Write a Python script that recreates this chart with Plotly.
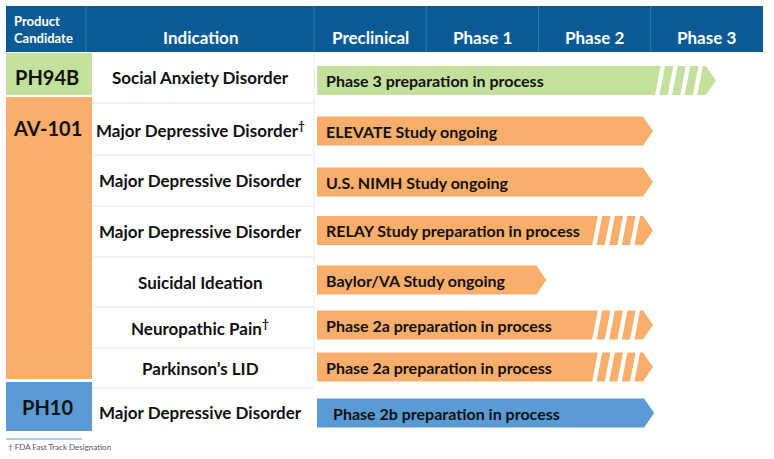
import plotly.graph_objects as go

# pipeline data
phases = ["Preclinical", "Phase 1", "Phase 2", "Phase 3"]
products = ["PH94B", "AV-101", "PH10"]
product_colors = ["#c4e09d", "#f9ae6c", "#5b9bd5"]
indications = [
    "Social Anxiety Disorder",
    "Major Depressive Disorder<sup>†</sup>",
    "Major Depressive Disorder",
    "Major Depressive Disorder",
    "Suicidal Ideation",
    "Neuropathic Pain<sup>†</sup>",
    "Parkinson’s LID",
    "Major Depressive Disorder",
]
row_product = [0, 1, 1, 1, 1, 1, 1, 2]
status = [
    "Phase 3 preparation in process",
    "ELEVATE Study ongoing",
    "U.S. NIMH Study ongoing",
    "RELAY Study preparation in process",
    "Baylor/VA Study ongoing",
    "Phase 2a preparation in process",
    "Phase 2a preparation in process",
    "Phase 2b preparation in process",
]
# how far each arrow reaches, in phase columns (0 = start of Preclinical)
progress = [3.58, 3.02, 3.02, 3.02, 2.07, 3.02, 3.02, 3.03]
in_preparation = [True, False, False, True, False, True, True, False]
footnote = "† FDA Fast Track Designation"

# layout (pixels)
W, H = 774, 459
X0, UNIT = 314, 112.25  # pixel where Preclinical starts, pixels per phase column


def px(p):
    return (p - X0) / UNIT


HEADER_BLUE = "#0a5b95"
FONT = "Lato"
header = (6, 52)
row_edges = [52, 103, 155, 206, 257, 307, 348, 388, 436]
arrow_shift = [3, 2, 1.5, -1, -2, -2.5, -1, 1]  # arrows sit a little off the row centres
box_edges = [(53, 95), (97, 379), (382, 431)]
box_label_y = [77, 128, 407]

fig = go.Figure()
shapes = []
notes = []


def rect(x0, x1, y0, y1, color, layer="below"):
    shapes.append(dict(type="rect", xref="x", yref="y", x0=x0, x1=x1, y0=y0, y1=y1,
                       fillcolor=color, line_width=0, layer=layer))


def line(x0, x1, y0, y1, color, width=1):
    shapes.append(dict(type="line", xref="x", yref="y", x0=x0, x1=x1, y0=y0, y1=y1,
                       line=dict(color=color, width=width), layer="below"))


def text(x, y, s, size, color="#111111", anchor="center"):
    notes.append(dict(x=x, y=y, xref="x", yref="y", text=s, showarrow=False,
                      xanchor=anchor, yanchor="middle", align=anchor if anchor != "center" else "center",
                      font=dict(family=FONT, size=size, color=color)))


# header band
rect(px(6), len(phases), header[0], header[1], HEADER_BLUE)
for xd in [px(86), 0, 1, 2, 3]:
    line(xd, xd, header[0], header[1], "rgba(255,255,255,0.18)")
notes.append(dict(x=px(12), y=29, xref="x", yref="y", text="<b>Product<br>Candidate</b>",
                  showarrow=False, xanchor="left", yanchor="middle", align="left",
                  font=dict(family=FONT, size=13, color="white")))
text(px(200), 37, "<b>Indication</b>", 17, "white")
for i, ph in enumerate(phases):
    text(i + 0.5, 37, "<b>%s</b>" % ph, 17, "white")

# product boxes
for name, color, (y0, y1), ly in zip(products, product_colors, box_edges, box_label_y):
    rect(px(6), px(92), y0, y1, color)
    text(px(47), ly, "<b>%s</b>" % name, 20)

# indication rows
for ye in row_edges[1:-1]:
    line(px(92), 0, ye, ye, "#e6e6e6")
line(0, 0, row_edges[0], row_edges[-2], "#eeeeee")

start = px(317)
head = 10 / UNIT
half = 14.5
for i, ind in enumerate(indications):
    yr = (row_edges[i] + row_edges[i + 1]) / 2
    text(px(200), yr, "<b>%s</b>" % ind, 17)

    yc = yr + arrow_shift[i]
    color = product_colors[row_product[i]]
    tip = progress[i]
    yt, yb = yc - half, yc + half
    path = "M {a},{t} L {b},{t} L {c},{m} L {b},{bt} L {a},{bt} Z".format(
        a=start, b=tip - head, c=tip, t=yt, m=yc, bt=yb)
    shapes.append(dict(type="path", xref="x", yref="y", path=path, fillcolor=color,
                       line_width=0, layer="below"))
    if in_preparation[i]:
        for k in range(4):
            c = tip - (18 + 12.6 * k) / UNIT
            s, w = 3 / UNIT, 2.2 / UNIT
            gp = "M {a},{t} L {b},{t} L {c},{bt} L {d},{bt} Z".format(
                a=c + s - w, b=c + s + w, c=c - s + w, d=c - s - w, t=yt - 1, bt=yb + 1)
            shapes.append(dict(type="path", xref="x", yref="y", path=gp, fillcolor="white",
                               line_width=0, layer="below"))
    indent = 17 if i == len(indications) - 1 else 10
    text(px(314 + indent), yc, "<b>%s</b>" % status[i], 16, anchor="left")

# footnote
line(px(6), px(82), 439, 439, "#5b9bd5")
text(px(6), 447, footnote, 8, "#555555", anchor="left")

fig.update_layout(
    width=W, height=H,
    margin=dict(l=0, r=0, t=0, b=0),
    paper_bgcolor="white", plot_bgcolor="white",
    xaxis=dict(range=[px(0), px(W)], visible=False, fixedrange=True),
    yaxis=dict(range=[H, 0], visible=False, fixedrange=True),
    shapes=shapes, annotations=notes, showlegend=False,
)
fig.write_html("out.html", config={"displayModeBar": False},
               post_script="document.body.style.margin='0';")
